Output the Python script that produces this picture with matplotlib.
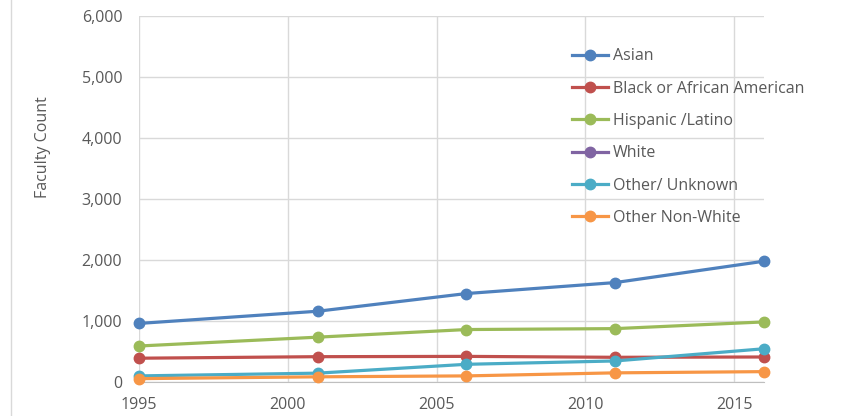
import numpy as np
import matplotlib.pyplot as plt
from matplotlib.lines import Line2D
from matplotlib.ticker import FuncFormatter

# dati
years = [1995, 2001, 2006, 2011, 2016]
asian = [960, 1160, 1450, 1630, 1980]
black = [390, 415, 420, 405, 410]
hispanic = [590, 735, 860, 875, 985]
white = []  # nessun valore visibile, solo in legenda
other_unknown = [100, 145, 290, 345, 545]
other_non_white = [55, 85, 100, 150, 170]

series = [
    ('Asian', asian, '#4F81BD'),
    ('Black or African American', black, '#C0504D'),
    ('Hispanic /Latino', hispanic, '#9BBB59'),
    ('White', white, '#8064A2'),
    ('Other/ Unknown', other_unknown, '#4BACC6'),
    ('Other Non-White', other_non_white, '#F79646'),
]

plt.rcParams['font.family'] = ['Open Sans', 'DejaVu Sans']

fig = plt.figure(figsize=(8.64, 4.16), dpi=100)
ax = fig.add_axes([139 / 864, 1 - 382 / 416, 625 / 864, 366 / 416])

for name, vals, col in series:
    ax.plot(years[:len(vals)], vals, color=col, linewidth=2.3, marker='o',
            markersize=7.5, label=name, clip_on=False, zorder=3)

ax.set_xlim(1995, 2016)
ax.set_ylim(0, 6000)
ax.set_xticks([1995, 2000, 2005, 2010, 2015])
ax.set_yticks(np.arange(0, 6001, 1000))
ax.yaxis.set_major_formatter(FuncFormatter(lambda v, p: f'{int(v):,}'))
ax.grid(True, color='#d9d9d9', linewidth=1)
ax.set_axisbelow(True)
for s in ['top', 'right', 'left']:
    ax.spines[s].set_visible(False)
ax.spines['bottom'].set_color('#bfbfbf')
ax.tick_params(length=0, labelsize=11.5, labelcolor='#595959')
ax.tick_params(axis='x', pad=11)
ax.tick_params(axis='y', pad=12)
ax.set_ylabel('Faculty Count', fontsize=11.5, color='#595959')
ax.yaxis.set_label_coords(-0.141, 0.642)

leg = ax.legend(loc='upper left', bbox_to_anchor=(566 / 864, 1 - 42 / 416),
                bbox_transform=fig.transFigure, frameon=False, fontsize=11.5,
                handlelength=2.25, handletextpad=0.3, labelspacing=1.02,
                borderaxespad=0)
for t in leg.get_texts():
    t.set_color('#595959')

# linea grigia a sinistra
fig.add_artist(Line2D([11 / 864, 11 / 864], [0, 1], color='#d9d9d9',
                      linewidth=1, transform=fig.transFigure))

plt.savefig('out.png', dpi=100)
plt.close()
